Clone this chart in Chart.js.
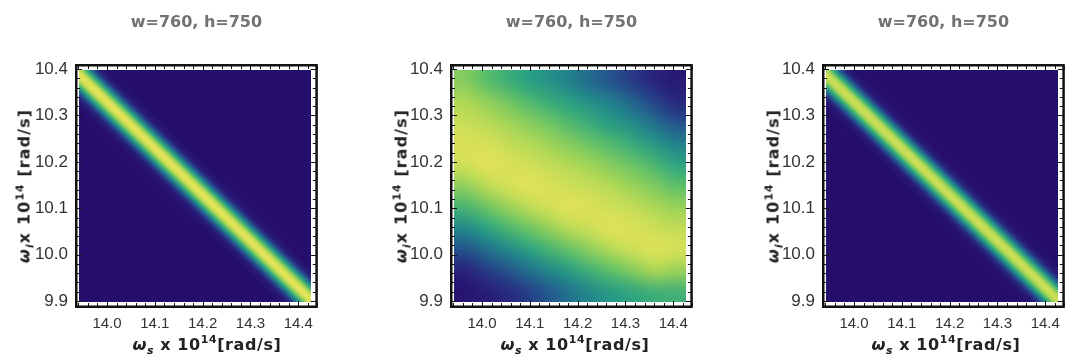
<!DOCTYPE html>
<html>
<head>
<meta charset="utf-8">
<script src="https://cdn.jsdelivr.net/npm/chart.js@4.4.1/dist/chart.umd.min.js"></script>
<style>
  html, body { margin: 0; padding: 0; background: #fff; }
  #wrap { position: relative; width: 1067px; height: 361px; overflow: hidden; }
  .panel { position: absolute; top: 0; width: 320px; height: 361px; }
  .axis-title {
    position: absolute;
    font: bold 16px "DejaVu Sans", sans-serif;
    color: #222;
    white-space: nowrap;
  }
  .axis-title sub, .axis-title sup { font-size: 68%; line-height: 0; }
  .ytitle { top: 186px; letter-spacing: 1.1px; transform: translate(-50%, -50%) rotate(-90deg); }
  .xtitle { top: 344px; letter-spacing: 0.6px; transform: translate(-50%, -50%); }
</style>
</head>
<body>
<div id="wrap">
  <div class="panel" style="left:0px"><canvas id="c1"></canvas></div>
  <div class="panel" style="left:375px"><canvas id="c2"></canvas></div>
  <div class="panel" style="left:747px"><canvas id="c3"></canvas></div>

  <div class="axis-title ytitle" style="left:24px"><i>ω<sub>i</sub></i>x 10<sup>14</sup> [rad/s]</div>
  <div class="axis-title ytitle" style="left:401px"><i>ω<sub>i</sub></i>x 10<sup>14</sup> [rad/s]</div>
  <div class="axis-title ytitle" style="left:773px"><i>ω<sub>i</sub></i>x 10<sup>14</sup> [rad/s]</div>

  <div class="axis-title xtitle" style="left:207px"><i>ω<sub>s</sub></i> x 10<sup>14</sup>[rad/s]</div>
  <div class="axis-title xtitle" style="left:575px"><i>ω<sub>s</sub></i> x 10<sup>14</sup>[rad/s]</div>
  <div class="axis-title xtitle" style="left:946px"><i>ω<sub>s</sub></i> x 10<sup>14</sup>[rad/s]</div>
</div>

<script>
// ---- data ----
const titles = ['w=760, h=750', 'w=760, h=750', 'w=760, h=750']

const xTicks = [14.0, 14.1, 14.2, 14.3, 14.4]
const yTicks = [9.9, 10.0, 10.1, 10.2, 10.3, 10.4]

// extent of the density image (ω_s, ω_i in 10^14 rad/s)
const xRange = [13.942, 14.427]
const yRange = [9.897, 10.397]

// bright ridge of the narrow plots follows ω_s + ω_i = pumpSum
const pumpSum = 24.33

// intensity across the ridge, by horizontal offset from it
const bandOffsets = [-0.065, -0.06, -0.055, -0.05, -0.045, -0.04, -0.035, -0.03, -0.025, -0.02, -0.015, -0.01, -0.005,
  0, 0.005, 0.01, 0.015, 0.02, 0.025, 0.03, 0.035, 0.04, 0.045, 0.05, 0.055, 0.06, 0.065]
const bandLeft = [0.03, 0.05, 0.08, 0.13, 0.19, 0.27, 0.37, 0.48, 0.60, 0.72, 0.83, 0.92, 0.98,
  1.0, 0.98, 0.92, 0.83, 0.72, 0.60, 0.48, 0.37, 0.27, 0.19, 0.13, 0.08, 0.05, 0.03]
const bandRight = [0.03, 0.05, 0.08, 0.13, 0.19, 0.27, 0.36, 0.47, 0.58, 0.69, 0.79, 0.87, 0.92,
  0.94, 0.92, 0.87, 0.79, 0.69, 0.58, 0.47, 0.36, 0.27, 0.19, 0.13, 0.08, 0.05, 0.03]

// middle plot, 11 x 11 samples, rows from top (ω_i high) to bottom
const middleGrid = [
  [0.78, 0.70, 0.62, 0.55, 0.49, 0.42, 0.35, 0.28, 0.20, 0.13, 0.07],
  [0.86, 0.81, 0.75, 0.68, 0.61, 0.55, 0.48, 0.41, 0.33, 0.24, 0.15],
  [0.93, 0.89, 0.84, 0.79, 0.74, 0.67, 0.60, 0.53, 0.46, 0.37, 0.28],
  [0.97, 0.96, 0.92, 0.88, 0.83, 0.78, 0.73, 0.67, 0.60, 0.52, 0.43],
  [0.94, 0.99, 0.97, 0.95, 0.91, 0.87, 0.83, 0.78, 0.73, 0.66, 0.57],
  [0.80, 0.89, 0.95, 0.99, 0.97, 0.94, 0.91, 0.87, 0.82, 0.77, 0.71],
  [0.64, 0.73, 0.81, 0.89, 0.95, 0.99, 0.97, 0.94, 0.91, 0.86, 0.82],
  [0.45, 0.55, 0.65, 0.73, 0.81, 0.89, 0.94, 0.99, 0.97, 0.94, 0.91],
  [0.28, 0.36, 0.45, 0.55, 0.64, 0.72, 0.80, 0.88, 0.94, 0.98, 0.96],
  [0.12, 0.20, 0.28, 0.36, 0.45, 0.54, 0.63, 0.71, 0.78, 0.85, 0.82],
  [0.04, 0.09, 0.15, 0.22, 0.30, 0.38, 0.46, 0.53, 0.58, 0.62, 0.63],
]

// ---- colour map (dark indigo -> teal -> green -> yellow) ----
const colorStops = [
  [0.0, [38, 14, 108]],
  [0.12, [40, 32, 122]],
  [0.25, [38, 72, 140]],
  [0.4, [33, 122, 142]],
  [0.55, [40, 160, 130]],
  [0.7, [90, 190, 105]],
  [0.85, [170, 215, 85]],
  [1.0, [230, 228, 88]],
]

function colorFor(v) {
  v = Math.max(0, Math.min(1, v))
  for (let i = 1; i < colorStops.length; i++) {
    const [t1, c1] = colorStops[i]
    if (v <= t1) {
      const [t0, c0] = colorStops[i - 1]
      const f = (v - t0) / (t1 - t0)
      return c0.map((c, k) => Math.round(c + (c1[k] - c) * f))
    }
  }
  return colorStops[colorStops.length - 1][1]
}

// cells, row-major from the top row
function gridCells(cols, rows, valueAt) {
  const cells = []
  const dx = (xRange[1] - xRange[0]) / cols
  const dy = (yRange[1] - yRange[0]) / rows
  for (let r = 0; r < rows; r++) {
    const y = yRange[1] - (r + 0.5) * dy
    for (let c = 0; c < cols; c++) {
      const x = xRange[0] + (c + 0.5) * dx
      cells.push({ x, y, v: valueAt(x, y, r, c) })
    }
  }
  return cells
}

function bandLookup(profile) {
  const step = bandOffsets[1] - bandOffsets[0]
  return (x, y) => {
    const k = Math.round((x + y - pumpSum - bandOffsets[0]) / step)
    return k >= 0 && k < profile.length ? profile[k] : 0
  }
}

const densityImage = {
  id: 'densityImage',
  beforeDatasetsDraw(chart) {
    const ds = chart.data.datasets[0]
    const off = document.createElement('canvas')
    off.width = ds.cols
    off.height = ds.rows
    const octx = off.getContext('2d')
    const img = octx.createImageData(ds.cols, ds.rows)
    ds.data.forEach((p, i) => {
      const [r, g, b] = colorFor(p.v)
      img.data.set([r, g, b, 255], i * 4)
    })
    octx.putImageData(img, 0, 0)

    const { x, y } = chart.scales
    const left = x.getPixelForValue(xRange[0])
    const right = x.getPixelForValue(xRange[1])
    const top = y.getPixelForValue(yRange[1])
    const bottom = y.getPixelForValue(yRange[0])
    const ctx = chart.ctx
    ctx.save()
    ctx.imageSmoothingEnabled = true
    ctx.imageSmoothingQuality = 'high'
    ctx.drawImage(off, left, top, right - left, bottom - top)
    ctx.restore()
  },
  afterDraw(chart) {
    // Mathematica-style frame with inward ticks on all four sides
    const { ctx, chartArea: a, scales } = chart
    ctx.save()
    ctx.strokeStyle = '#111'
    ctx.lineWidth = 2.5
    ctx.strokeRect(a.left + 1.25, a.top + 1.25, a.width - 2.5, a.height - 2.5)
    ctx.lineWidth = 1
    ctx.beginPath()
    const step = 0.02
    for (let k = Math.ceil(scales.x.min / step); k <= Math.floor(scales.x.max / step); k++) {
      const px = Math.round(scales.x.getPixelForValue(k * step)) + 0.5
      const len = k % 5 === 0 ? 5 : 3
      ctx.moveTo(px, a.bottom - 2); ctx.lineTo(px, a.bottom - 2 - len)
      ctx.moveTo(px, a.top + 2); ctx.lineTo(px, a.top + 2 + len)
    }
    for (let k = Math.ceil(scales.y.min / step); k <= Math.floor(scales.y.max / step); k++) {
      const py = Math.round(scales.y.getPixelForValue(k * step)) + 0.5
      const len = k % 5 === 0 ? 5 : 3
      ctx.moveTo(a.left + 2, py); ctx.lineTo(a.left + 2 + len, py)
      ctx.moveTo(a.right - 2, py); ctx.lineTo(a.right - 2 - len, py)
    }
    ctx.stroke()
    ctx.restore()
  },
}

const fontFamily = '"Liberation Sans", Arial, sans-serif'

function makePanel(canvasId, title, cells, cols, rows) {
  const canvas = document.getElementById(canvasId)
  canvas.width = 320
  canvas.height = 361
  return new Chart(canvas, {
    type: 'scatter',
    data: {
      datasets: [{ data: cells, cols, rows, pointRadius: 0, pointHoverRadius: 0 }],
    },
    options: {
      responsive: false,
      animation: false,
      events: [],
      layout: { padding: { left: 0, right: 2, top: 0, bottom: 0 } },
      plugins: {
        legend: { display: false },
        tooltip: { enabled: false },
        title: {
          display: true,
          text: title,
          fullSize: false,
          color: '#727272',
          font: { family: '"DejaVu Sans", sans-serif', size: 16, weight: 'bold', lineHeight: 1.2 },
          padding: { top: 13, bottom: 31.8 },
        },
      },
      scales: {
        x: {
          type: 'linear',
          min: 13.933,
          max: 14.441,
          grid: { display: false, drawTicks: false },
          border: { display: false },
          afterBuildTicks: (s) => { s.ticks = xTicks.map((value) => ({ value })) },
          afterFit: (s) => { s.height = 53 },
          ticks: {
            color: '#333',
            font: { family: fontFamily, size: 15 },
            padding: 7,
            maxRotation: 0,
            autoSkip: false,
            callback: (v) => Number(v).toFixed(1),
          },
        },
        y: {
          type: 'linear',
          min: 9.885,
          max: 10.411,
          grid: { display: false, drawTicks: false },
          border: { display: false },
          afterBuildTicks: (s) => { s.ticks = yTicks.map((value) => ({ value })) },
          afterFit: (s) => { s.width = 75 },
          ticks: {
            color: '#333',
            font: { family: fontFamily, size: 17 },
            padding: 7,
            autoSkip: false,
            callback: (v) => Number(v).toFixed(1),
          },
        },
      },
    },
    plugins: [densityImage],
  })
}

// narrow plots: square cells 0.005 wide so the ridge lines up with the profile samples
const bandCols = 97
const bandRows = 100
makePanel('c1', titles[0], gridCells(bandCols, bandRows, bandLookup(bandLeft)), bandCols, bandRows)
makePanel('c2', titles[1], gridCells(11, 11, (x, y, r, c) => middleGrid[r][c]), 11, 11)
makePanel('c3', titles[2], gridCells(bandCols, bandRows, bandLookup(bandRight)), bandCols, bandRows)
</script>
</body>
</html>
